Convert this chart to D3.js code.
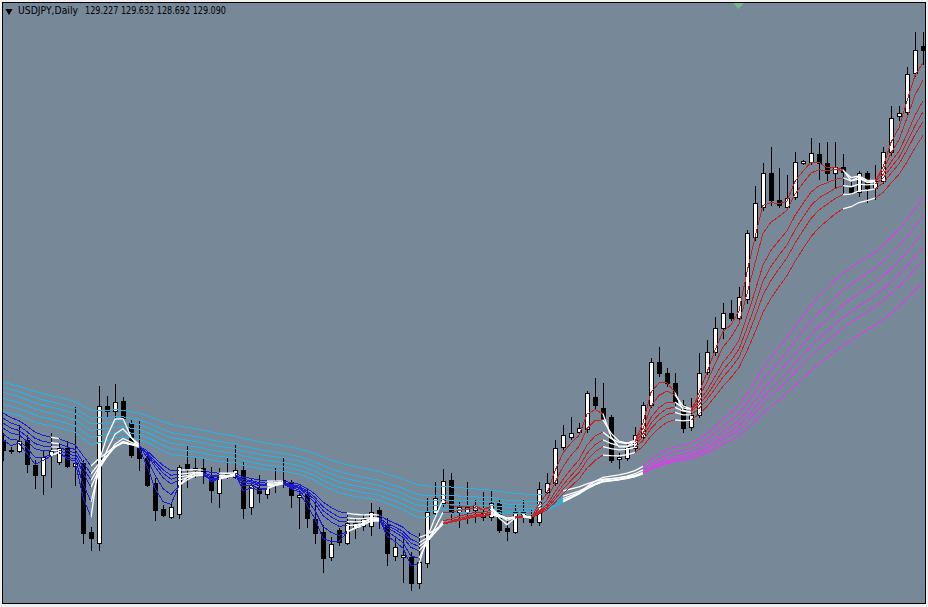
<!DOCTYPE html>
<html><head><meta charset="utf-8">
<script src="https://cdn.jsdelivr.net/npm/d3@7"></script>
<style>html,body{margin:0;padding:0;background:#f0f0f0;overflow:hidden}</style>
</head><body><svg id="c" width="928" height="607"></svg>
<script>
const symbol = "USDJPY";
const timeframe = "Daily";

const open = [
117.40,117.10,117.07,117.40,116.65,116.35,116.95,116.74,117.16,116.62,
116.71,114.64,114.31,118.42,118.27,118.57,117.91,117.16,116.86,116.11,
115.33,115.09,115.18,116.68,116.50,116.56,116.29,115.81,116.29,116.29,
116.50,115.39,115.96,115.78,116.11,116.11,116.14,115.69,115.78,115.03,
114.64,113.89,114.70,114.31,114.76,114.82,114.82,115.30,114.85,113.92,
113.89,113.89,113.11,113.71,115.21,115.51,116.20,115.24,115.24,115.30,
115.09,115.09,115.51,114.76,114.64,115.15,115.09,114.94,115.84,116.11,
117.19,117.49,117.64,117.73,118.69,118.36,118.09,116.83,116.86,117.16,
117.49,118.45,119.74,119.41,119.11,118.45,117.79,118.15,119.44,120.04,
120.76,121.21,121.06,121.63,123.49,124.39,125.41,124.60,124.39,124.69,
125.71,125.74,125.98,125.71,125.41,125.59,124.99,124.84,125.41,124.96,
125.17,126.04,127.12,127.24,128.41,129.227];

const high = [
117.61,117.19,117.85,117.55,116.80,117.10,117.61,117.28,117.37,118.39,
116.80,114.79,119.02,118.72,119.08,118.69,118.00,118.00,117.01,116.26,
115.45,115.54,116.65,117.22,116.89,116.86,116.59,116.56,116.86,117.25,
116.74,116.26,116.35,116.14,116.56,116.89,116.20,115.90,115.96,115.54,
114.85,114.49,114.76,115.15,115.06,115.18,115.51,115.39,115.06,114.46,
114.46,114.04,114.61,115.66,116.14,116.53,116.41,115.54,116.14,115.60,
115.84,115.90,115.60,115.09,115.45,115.60,115.30,116.14,116.41,117.40,
117.85,118.09,117.91,118.87,119.26,119.11,118.15,117.01,117.34,117.79,
118.54,119.86,120.19,119.56,119.41,118.60,118.66,120.01,120.40,121.09,
121.51,121.60,121.99,123.70,125.02,125.71,126.19,125.56,125.35,126.04,
125.80,126.46,126.31,126.34,126.34,125.98,125.20,125.47,125.47,125.65,
126.19,127.42,127.42,128.59,129.64,129.632];

const low = [
116.80,117.01,117.04,116.44,115.96,115.78,115.99,116.68,116.59,116.05,
114.31,114.10,114.10,118.09,118.09,118.00,116.89,116.50,116.02,115.00,
115.12,115.06,115.06,115.99,116.29,116.11,115.54,115.39,116.26,116.26,
115.06,115.18,115.54,115.66,115.84,115.99,115.39,114.76,114.79,114.31,
113.44,113.80,114.25,114.28,114.46,114.70,114.55,114.76,113.65,113.80,
113.14,112.90,112.96,113.59,115.09,115.42,114.94,114.79,114.91,114.94,
115.00,115.00,114.64,114.40,114.61,114.94,114.85,114.85,115.78,116.05,
117.13,117.43,117.58,117.64,118.36,118.00,116.74,116.56,116.80,117.10,
117.40,118.39,119.32,119.02,118.45,117.64,117.70,118.09,119.38,119.95,
120.46,121.00,121.00,121.51,123.40,124.30,124.45,124.39,124.33,124.63,
125.68,125.68,125.23,125.20,124.96,124.81,124.78,124.72,124.54,124.63,
125.11,125.95,127.00,127.12,128.32,128.692];

const close = [
117.10,117.07,117.37,116.68,116.35,116.89,117.07,117.16,116.62,116.71,
114.61,114.46,118.42,118.27,118.54,118.06,116.95,116.86,116.05,115.30,
115.15,115.39,116.59,116.53,116.56,116.41,115.90,116.29,116.38,116.50,
115.36,116.05,115.81,115.96,116.17,116.20,115.75,115.75,115.06,114.61,
113.86,114.28,114.34,114.91,114.91,115.03,115.24,115.00,114.01,114.19,
113.95,113.11,113.74,115.24,115.66,116.17,115.24,115.39,115.39,115.45,
115.21,115.51,114.70,114.67,115.24,115.24,114.94,115.93,116.11,117.16,
117.55,117.61,117.76,118.81,118.45,118.06,116.80,116.89,117.19,117.55,
118.45,119.74,119.41,119.11,118.54,117.76,118.15,119.41,120.04,120.76,
121.21,121.06,121.69,123.61,124.51,125.41,124.60,124.45,124.66,125.74,
125.77,126.01,125.71,125.41,125.59,125.44,124.84,125.41,124.96,125.17,
126.04,127.06,127.21,128.38,129.10,129.090];

// Guppy multiple moving averages (EMA periods) and their values at the first visible bar
const shortPeriods = [3, 5, 8, 10, 12, 15];
const longPeriods = [30, 35, 40, 45, 50, 60];
const shortStart = [117.40, 117.58, 117.76, 117.91, 118.06, 118.21];
const longStart = [118.27, 118.48, 118.66, 118.84, 118.99, 119.14];

const shortColors = {up: "#c42424", down: "#1c1cd0", mixed: "#ffffff"};
const longColors = {up: "#dc3ceb", down: "#26b2e2", mixed: "#ffffff"};

const W = 928, H = 607;
const svg = d3.select("#c");
const n = close.length;
const bars = d3.range(n);

const x = d3.scaleLinear().domain([0, n - 1]).range([3, 923]);
const y = d3.scaleLinear().domain([130.6, 130.6 - 607 * 0.03]).range([0, 607]);
const px = v => Math.round(v) + 0.5;

svg.append("rect").attr("width", W).attr("height", H).attr("fill", "#f0f0f0");
svg.append("rect").attr("x", 2.5).attr("y", 2.5).attr("width", 923).attr("height", 601)
  .attr("fill", "#778899").attr("stroke", "#000").attr("stroke-width", 1);

svg.append("clipPath").attr("id", "clip").append("rect")
  .attr("x", 3).attr("y", 3).attr("width", 922).attr("height", 600);
const plot = svg.append("g").attr("clip-path", "url(#clip)");

// candles
const cg = plot.append("g");
cg.selectAll("line.wick").data(bars).join("line")
  .attr("x1", i => px(x(i))).attr("x2", i => px(x(i)))
  .attr("y1", i => Math.round(y(high[i]))).attr("y2", i => Math.round(y(low[i])) + 1)
  .attr("stroke", "#000").attr("stroke-width", 1).attr("shape-rendering", "crispEdges");
cg.selectAll("rect.body").data(bars).join("rect")
  .attr("x", i => Math.round(x(i)) - 2 + 0.5)
  .attr("y", i => Math.round(y(Math.max(open[i], close[i]))) + 0.5)
  .attr("width", 4)
  .attr("height", i => Math.max(1, Math.round(y(Math.min(open[i], close[i]))) - Math.round(y(Math.max(open[i], close[i])))))
  .attr("fill", i => close[i] >= open[i] ? "#fff" : "#000")
  .attr("stroke", "#000").attr("stroke-width", 1).attr("shape-rendering", "crispEdges");

// EMAs
function ema(src, period, start) {
  const k = 2 / (period + 1);
  const out = [start];
  for (let i = 1; i < src.length; i++) out.push(out[i - 1] + k * (src[i] - out[i - 1]));
  return out;
}
function state(vals) {
  let up = true, down = true;
  for (let j = 0; j < vals.length - 1; j++) {
    if (!(vals[j] > vals[j + 1])) up = false;
    if (!(vals[j] < vals[j + 1])) down = false;
  }
  return up ? "up" : down ? "down" : "mixed";
}
function drawGroup(periods, starts, colors) {
  const lines = periods.map((p, k) => ema(close, p, starts[k]));
  const st = bars.map(i => state(lines.map(l => l[i])));
  const g = plot.append("g");
  lines.forEach(l => {
    const runs = [];
    for (let i = 1; i < n; i++) {
      const key = st[i];
      const last = runs[runs.length - 1];
      if (last && last.key === key && last.idx[last.idx.length - 1] === i - 1) last.idx.push(i);
      else runs.push({key: key, idx: [i - 1, i]});
    }
    const gen = d3.line().x(i => x(i)).y(i => y(l[i]));
    g.selectAll(null).data(runs).join("path")
      .attr("d", r => gen(r.idx)).attr("fill", "none")
      .attr("stroke", r => colors[r.key])
      .attr("stroke-width", r => r.key === "mixed" ? 1.3 : 1)
      .attr("shape-rendering", r => r.key === "mixed" ? "auto" : "crispEdges");
  });
}
drawGroup(longPeriods, longStart, longColors);
drawGroup(shortPeriods, shortStart, shortColors);

// header
const hdr = svg.append("g").attr("font-family", "DejaVu Sans, Tahoma, sans-serif").attr("font-size", 10).attr("fill", "#000");
hdr.append("path").attr("d", d3.symbol(d3.symbolTriangle, 22)()).attr("transform", "translate(9,11) rotate(180)").attr("fill", "#000");
hdr.append("text").attr("x", 18).attr("y", 14).attr("textLength", 60).attr("lengthAdjust", "spacingAndGlyphs")
  .text(`${symbol},${timeframe}`);
const last = n - 1;
hdr.append("text").attr("x", 85).attr("y", 14).attr("textLength", 141).attr("lengthAdjust", "spacingAndGlyphs")
  .text([open[last], high[last], low[last], close[last]].map(v => v.toFixed(3)).join(" "));

// chart shift marker
svg.append("path").attr("d", "M733,3 L744,3 L738.5,9 Z").attr("fill", "#74b884");
</script></body></html>
